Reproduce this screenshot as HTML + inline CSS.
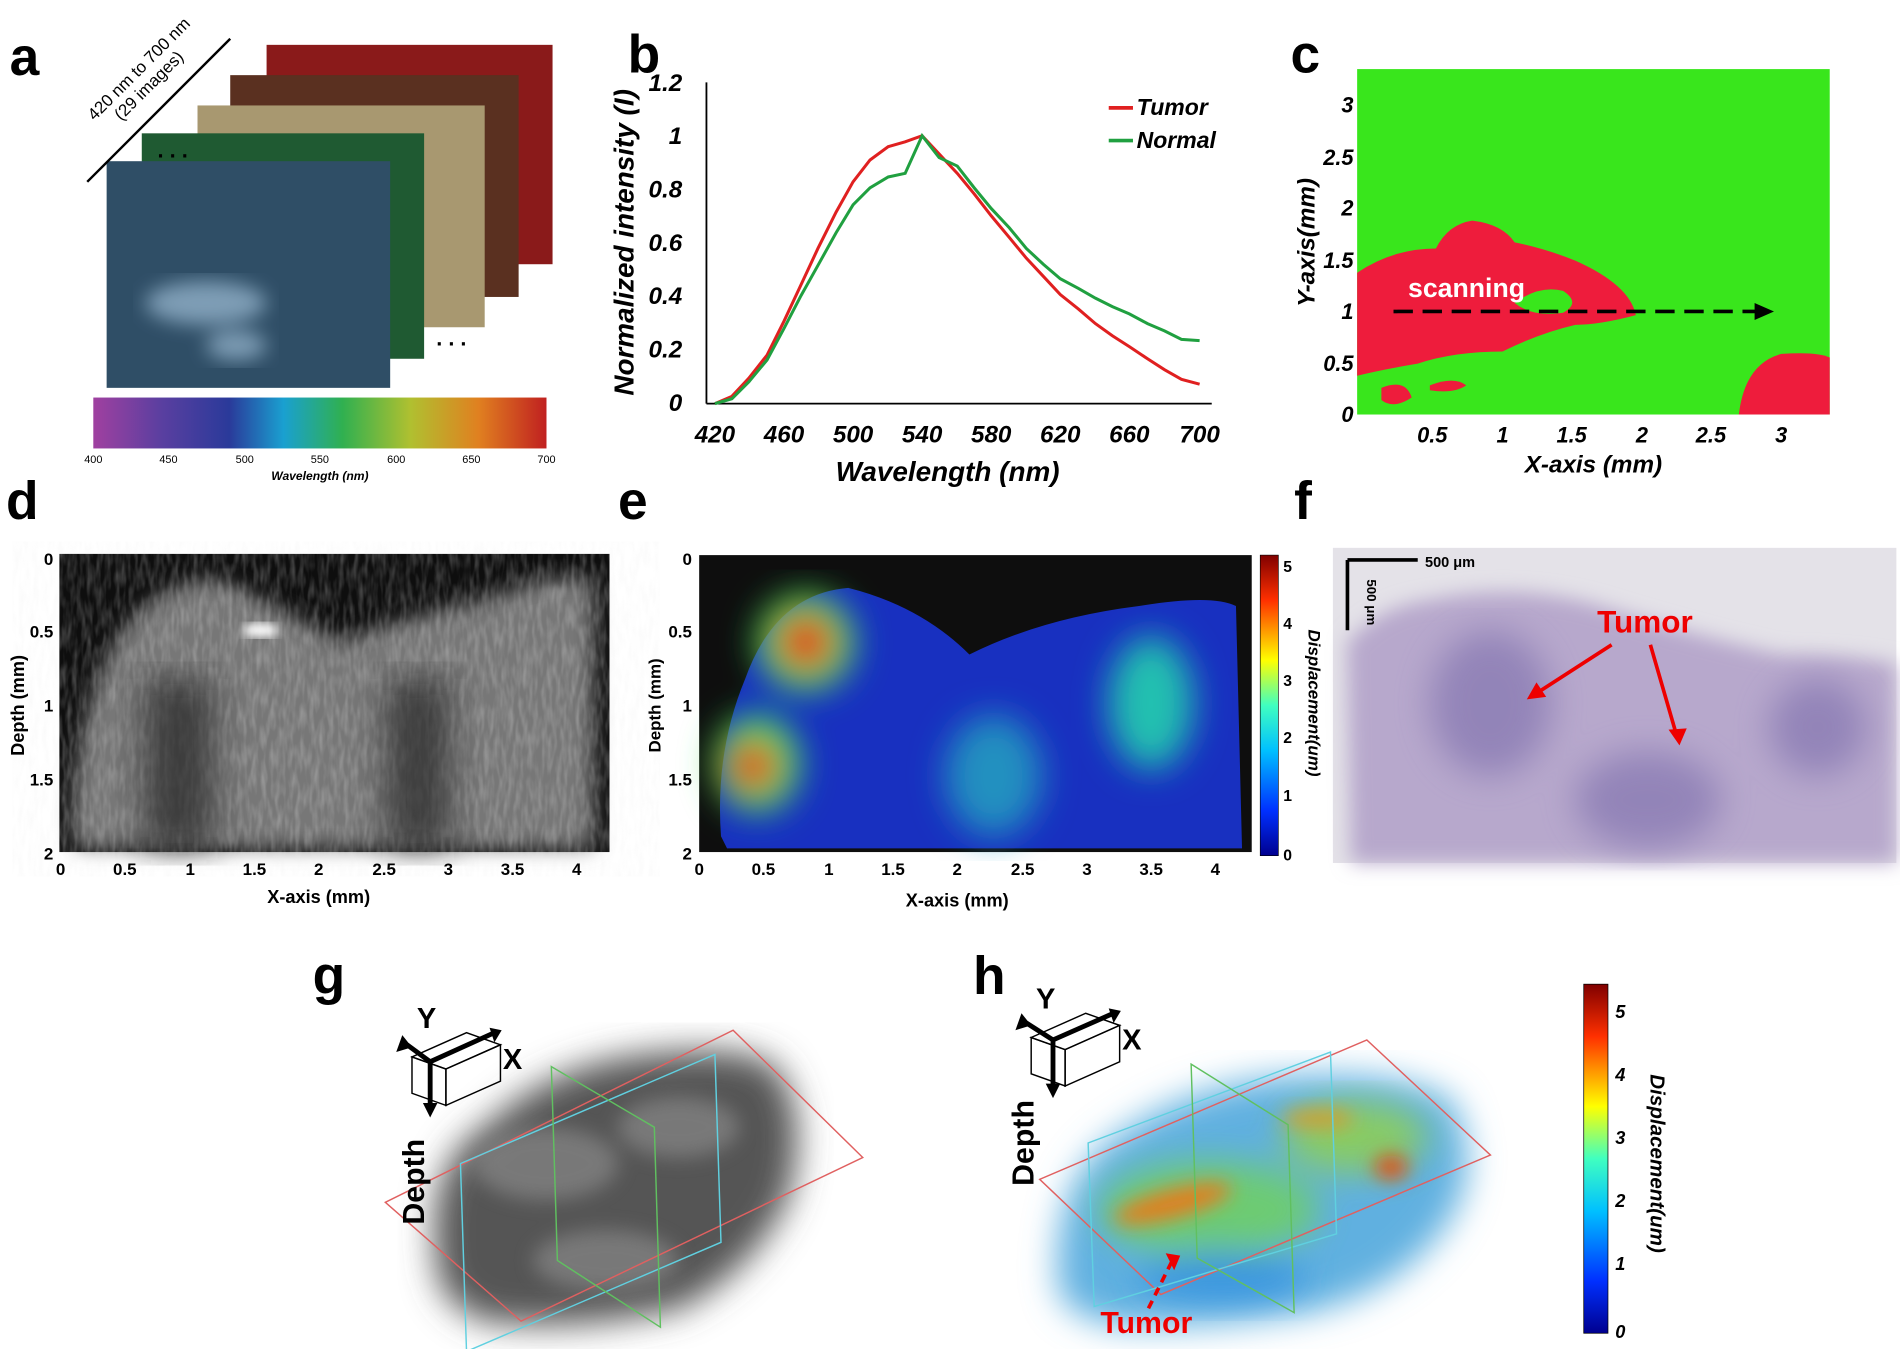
<!DOCTYPE html>
<html><head><meta charset="utf-8"><style>
body{margin:0;background:#fff;width:1900px;height:1349px;overflow:hidden;font-family:"Liberation Sans",Arial,sans-serif}
</style></head><body>
<svg width="1900" height="1349" viewBox="0 0 1568 1113" preserveAspectRatio="none" xmlns="http://www.w3.org/2000/svg" font-family="Liberation Sans, Arial, sans-serif">
<defs>
<filter id="b4"><feGaussianBlur stdDeviation="4"/></filter>
<filter id="b8"><feGaussianBlur stdDeviation="8"/></filter>
<filter id="b14"><feGaussianBlur stdDeviation="14"/></filter>
<filter id="noise"><feTurbulence type="fractalNoise" baseFrequency="0.25 0.06" numOctaves="2" seed="3"/><feColorMatrix type="matrix" values="0 0 0 0 0.85 0 0 0 0 0.85 0 0 0 0 0.85 0 0 1.4 0 -0.5"/></filter>
<linearGradient id="spec" x1="0" x2="1">
<stop offset="0" stop-color="#a040a0"/><stop offset="0.15" stop-color="#5a3fa0"/><stop offset="0.3" stop-color="#2a3a9a"/><stop offset="0.42" stop-color="#1aa0d0"/><stop offset="0.55" stop-color="#30b050"/><stop offset="0.7" stop-color="#b0c030"/><stop offset="0.85" stop-color="#e08020"/><stop offset="1" stop-color="#c02020"/></linearGradient>
<linearGradient id="jet" x1="0" y1="1" x2="0" y2="0">
<stop offset="0" stop-color="#00008f"/><stop offset="0.15" stop-color="#0030ff"/><stop offset="0.35" stop-color="#00c0ff"/><stop offset="0.5" stop-color="#40ffc0"/><stop offset="0.65" stop-color="#ffff00"/><stop offset="0.85" stop-color="#ff3000"/><stop offset="1" stop-color="#800000"/></linearGradient>
</defs>
<g font-weight="bold" font-size="44" fill="#000">
<text x="8" y="62">a</text><text x="518" y="60">b</text><text x="1065" y="60">c</text>
<text x="5" y="428">d</text><text x="510" y="428">e</text><text x="1068" y="428">f</text>
<text x="258" y="820">g</text><text x="803" y="820">h</text></g>

<!-- panel a -->
<rect x="220" y="37" width="236" height="181" fill="#8a1a1a"/>
<rect x="190" y="62" width="238" height="183" fill="#5a3020"/>
<rect x="163" y="87" width="237" height="183" fill="#a89870"/>
<rect x="117" y="110" width="233" height="186" fill="#1f5a32"/>
<rect x="88" y="133" width="234" height="187" fill="#2f4e66"/>
<g filter="url(#b8)" fill="#a0c0d8" opacity="0.7"><ellipse cx="170" cy="250" rx="50" ry="18"/><ellipse cx="195" cy="285" rx="25" ry="12"/></g>
<line x1="72" y1="150" x2="190" y2="32" stroke="#000" stroke-width="2"/>
<text x="0" y="0" font-size="14" transform="translate(78,100) rotate(-45)">420 nm to 700 nm</text>
<text x="0" y="0" font-size="14" transform="translate(100,100) rotate(-45)">(29 images)</text>
<text x="130" y="130" font-size="18" font-weight="bold">. . .</text>
<text x="360" y="285" font-size="18" font-weight="bold">. . .</text>
<rect x="77" y="328" width="374" height="42" fill="url(#spec)"/>
<g font-size="9" text-anchor="middle"><text x="77" y="382">400</text><text x="139" y="382">450</text><text x="202" y="382">500</text><text x="264" y="382">550</text><text x="327" y="382">600</text><text x="389" y="382">650</text><text x="451" y="382">700</text></g>
<text x="264" y="396" font-size="10" font-style="italic" font-weight="bold" text-anchor="middle">Wavelength (nm)</text>

<!-- panel b -->
<g stroke="#000" stroke-width="1.5"><line x1="583" y1="68" x2="583" y2="333"/><line x1="583" y1="333" x2="1000" y2="333"/></g>
<g font-size="20" font-weight="bold" font-style="italic" text-anchor="end">
<text x="563" y="75">1.2</text><text x="563" y="119">1</text><text x="563" y="163">0.8</text><text x="563" y="207">0.6</text><text x="563" y="251">0.4</text><text x="563" y="295">0.2</text><text x="563" y="339">0</text></g>
<g font-size="20" font-weight="bold" font-style="italic" text-anchor="middle">
<text x="590" y="365">420</text><text x="647" y="365">460</text><text x="704" y="365">500</text><text x="761" y="365">540</text><text x="818" y="365">580</text><text x="875" y="365">620</text><text x="932" y="365">660</text><text x="990" y="365">700</text></g>
<text x="782" y="397" font-size="23" font-weight="bold" font-style="italic" text-anchor="middle">Wavelength (nm)</text>
<text transform="translate(523,200) rotate(-90)" font-size="23" font-weight="bold" font-style="italic" text-anchor="middle">Normalized intensity (I)</text>
<polyline fill="none" stroke="#e02020" stroke-width="2.5" points="590,333 604,327 618,312 633,293 647,265 661,235 675,205 690,175 704,150 718,132 733,121 747,117 761,112 775,127 790,143 804,160 818,178 833,196 847,213 861,228 875,243 890,255 904,267 918,277 932,286 947,296 961,305 975,313 990,317"/>
<polyline fill="none" stroke="#20a040" stroke-width="2.5" points="590,333 604,329 618,315 633,297 647,271 661,244 675,219 690,192 704,169 718,155 733,146 747,143 761,112 775,130 790,137 804,155 818,172 833,188 847,205 861,218 875,230 890,238 904,246 918,253 932,259 947,267 961,273 975,280 990,281"/>
<line x1="915" y1="89" x2="935" y2="89" stroke="#e02020" stroke-width="3"/><line x1="915" y1="116" x2="935" y2="116" stroke="#20a040" stroke-width="3"/>
<g font-size="19" font-weight="bold" font-style="italic"><text x="938" y="95">Tumor</text><text x="938" y="122">Normal</text></g>

<!-- panel c -->
<rect x="1120" y="57" width="390" height="285" fill="#39e61c"/>
<g fill="#ee1c3c">
<path d="M1120,225 Q1150,205 1185,205 Q1195,185 1215,182 Q1240,185 1250,200 Q1275,205 1300,215 Q1345,235 1350,260 Q1320,268 1300,268 Q1270,275 1240,290 Q1200,290 1170,300 Q1140,305 1120,310Z"/>
<path d="M1140,320 Q1160,312 1165,328 Q1150,338 1140,330Z"/>
<path d="M1180,318 Q1200,310 1210,318 Q1200,325 1180,322Z"/>
<path d="M1435,342 Q1440,300 1470,292 Q1500,290 1510,295 L1510,342Z"/>
</g>
<path d="M1250,250 Q1270,235 1290,240 Q1305,250 1290,258 Q1265,262 1250,250Z" fill="#39e61c"/>
<text x="1162" y="245" font-size="22" font-weight="bold" fill="#fff">scanning</text>
<line x1="1150" y1="257" x2="1450" y2="257" stroke="#000" stroke-width="3" stroke-dasharray="16,8"/>
<path d="M1448,250 L1464,257 L1448,264Z"/>
<g font-size="18" font-weight="bold" font-style="italic" text-anchor="end">
<text x="1117" y="93">3</text><text x="1117" y="136">2.5</text><text x="1117" y="178">2</text><text x="1117" y="221">1.5</text><text x="1117" y="263">1</text><text x="1117" y="306">0.5</text><text x="1117" y="348">0</text></g>
<g font-size="18" font-weight="bold" font-style="italic" text-anchor="middle">
<text x="1182" y="365">0.5</text><text x="1240" y="365">1</text><text x="1297" y="365">1.5</text><text x="1355" y="365">2</text><text x="1412" y="365">2.5</text><text x="1470" y="365">3</text></g>
<text x="1315" y="390" font-size="20" font-weight="bold" font-style="italic" text-anchor="middle">X-axis (mm)</text>
<text transform="translate(1085,200) rotate(-90)" font-size="20" font-weight="bold" font-style="italic" text-anchor="middle">Y-axis(mm)</text>

<!-- panel d -->
<rect x="49" y="457" width="454" height="246" fill="#0e0e0e"/>
<path d="M60,690 Q60,600 90,540 Q120,480 180,478 Q230,500 280,530 Q330,510 400,495 Q460,470 490,480 L490,700 L65,700Z" fill="#777" filter="url(#b8)"/>
<rect x="55" y="470" width="445" height="230" filter="url(#noise)" opacity="0.35"/>
<g fill="#222" filter="url(#b14)" opacity="0.7"><rect x="120" y="560" width="55" height="140"/><rect x="320" y="560" width="50" height="140"/></g>
<ellipse cx="215" cy="520" rx="15" ry="6" fill="#fff" filter="url(#b4)"/>
<g font-size="14" font-weight="bold" text-anchor="end"><text x="44" y="466">0</text><text x="44" y="526">0.5</text><text x="44" y="587">1</text><text x="44" y="648">1.5</text><text x="44" y="709">2</text></g>
<g font-size="14" font-weight="bold" text-anchor="middle"><text x="50" y="722">0</text><text x="103" y="722">0.5</text><text x="157" y="722">1</text><text x="210" y="722">1.5</text><text x="263" y="722">2</text><text x="317" y="722">2.5</text><text x="370" y="722">3</text><text x="423" y="722">3.5</text><text x="476" y="722">4</text></g>
<text x="263" y="745" font-size="15" font-weight="bold" text-anchor="middle">X-axis (mm)</text>
<text transform="translate(20,582) rotate(-90)" font-size="15" font-weight="bold" text-anchor="middle">Depth (mm)</text>

<!-- panel e -->
<rect x="577" y="458" width="456" height="245" fill="#0e0e0e"/>
<path d="M595,690 Q590,620 615,560 Q640,490 700,485 Q760,500 800,540 Q860,510 940,500 Q1000,490 1020,500 L1025,700 L600,700Z" fill="#1830c0"/>
<g filter="url(#b14)">
<ellipse cx="665" cy="530" rx="40" ry="40" fill="#30e060"/>
<ellipse cx="625" cy="630" rx="35" ry="40" fill="#30e060"/>
<ellipse cx="950" cy="580" rx="35" ry="55" fill="#20c0b0"/>
<ellipse cx="820" cy="640" rx="40" ry="50" fill="#2090c0"/>
<ellipse cx="665" cy="530" rx="24" ry="24" fill="#e03010"/>
<ellipse cx="622" cy="632" rx="20" ry="22" fill="#e03010"/>
</g>
<rect x="1040" y="458" width="15" height="248" fill="url(#jet)" stroke="#000" stroke-width="0.5"/>
<g font-size="13" font-weight="bold"><text x="1059" y="472">5</text><text x="1059" y="519">4</text><text x="1059" y="566">3</text><text x="1059" y="613">2</text><text x="1059" y="661">1</text><text x="1059" y="710">0</text></g>
<text transform="translate(1080,580) rotate(90)" font-size="14" font-weight="bold" font-style="italic" text-anchor="middle">Displacement(um)</text>
<g font-size="14" font-weight="bold" text-anchor="end"><text x="571" y="466">0</text><text x="571" y="526">0.5</text><text x="571" y="587">1</text><text x="571" y="648">1.5</text><text x="571" y="709">2</text></g>
<g font-size="14" font-weight="bold" text-anchor="middle"><text x="577" y="722">0</text><text x="630" y="722">0.5</text><text x="684" y="722">1</text><text x="737" y="722">1.5</text><text x="790" y="722">2</text><text x="844" y="722">2.5</text><text x="897" y="722">3</text><text x="950" y="722">3.5</text><text x="1003" y="722">4</text></g>
<text x="790" y="748" font-size="15" font-weight="bold" text-anchor="middle">X-axis (mm)</text>
<text transform="translate(545,582) rotate(-90)" font-size="14" font-weight="bold" text-anchor="middle">Depth (mm)</text>

<!-- panel f -->
<rect x="1100" y="452" width="465" height="260" fill="#e4e2e8"/>
<path d="M1115,712 L1112,530 Q1140,500 1180,495 Q1250,480 1320,500 Q1400,525 1470,540 Q1530,540 1565,548 L1565,712Z" fill="#b7a8cc" filter="url(#b8)"/>
<g fill="#8a7cb4" filter="url(#b14)" opacity="0.8"><ellipse cx="1230" cy="580" rx="50" ry="60"/><ellipse cx="1360" cy="660" rx="60" ry="40"/><ellipse cx="1500" cy="600" rx="40" ry="40"/></g>
<line x1="1112" y1="462" x2="1170" y2="462" stroke="#000" stroke-width="3"/>
<line x1="1112" y1="462" x2="1112" y2="520" stroke="#000" stroke-width="3"/>
<text x="1176" y="468" font-size="12" font-weight="bold">500 μm</text>
<text transform="translate(1128,478) rotate(90)" font-size="11" font-weight="bold">500 μm</text>
<text x="1318" y="522" font-size="26" font-weight="bold" fill="#e00">Tumor</text>
<g stroke="#e00" stroke-width="3"><line x1="1330" y1="532" x2="1268" y2="572"/><line x1="1362" y1="532" x2="1384" y2="608"/></g>
<path d="M1260,577 L1268,563 L1276,575Z" fill="#e00"/><path d="M1386,615 L1377,602 L1392,601Z" fill="#e00"/>

<!-- panel g -->
<path d="M360,1040 Q350,960 400,930 Q450,880 530,870 Q610,860 640,880 Q670,920 650,990 Q620,1050 560,1080 Q470,1100 400,1090 Q360,1075 360,1040Z" fill="#555" filter="url(#b14)"/>
<g fill="#888" filter="url(#b8)" opacity="0.7"><ellipse cx="450" cy="960" rx="60" ry="30"/><ellipse cx="560" cy="930" rx="50" ry="25"/><ellipse cx="500" cy="1040" rx="60" ry="25"/></g>
<g fill="none" stroke-width="1.2">
<polygon points="318,992 430,1090 712,955 605,850" stroke="#e06060"/>
<polygon points="385,1115 380,960 590,870 595,1025" stroke="#60d0e0"/>
<polygon points="455,880 540,930 545,1095 460,1040" stroke="#60c060"/></g>
<g stroke="#000" fill="none" stroke-width="1.2"><polygon points="340,872 385,852 413,862 368,882"/><polygon points="368,882 413,862 413,892 368,912"/><polygon points="340,872 368,882 368,912 340,902"/></g>
<g stroke="#000" stroke-width="4"><line x1="355" y1="876" x2="408" y2="852"/><line x1="355" y1="876" x2="355" y2="912"/><line x1="355" y1="876" x2="336" y2="862"/></g>
<path d="M349,910 L355,922 L361,910Z"/><path d="M332,854 L327,868 L340,864Z"/><path d="M404,848 L414,850 L408,860Z"/>
<g font-size="24" font-weight="bold"><text x="344" y="848">Y</text><text x="415" y="882">X</text></g>
<text transform="translate(350,975) rotate(-90)" font-size="25" font-weight="bold" text-anchor="middle">Depth</text>

<!-- panel h -->
<g transform="translate(-32,8)">
<path d="M905,1050 Q900,960 960,925 Q1020,885 1100,880 Q1190,875 1230,900 Q1260,960 1220,1010 Q1180,1060 1110,1075 Q1020,1090 950,1085 Q905,1075 905,1050Z" fill="#60b0e0" filter="url(#b14)"/>
<g filter="url(#b14)" opacity="0.85"><ellipse cx="1030" cy="990" rx="90" ry="40" fill="#70d060"/><ellipse cx="1150" cy="930" rx="60" ry="30" fill="#90d050"/><ellipse cx="1040" cy="1045" rx="70" ry="20" fill="#3090e0"/></g>
<g filter="url(#b8)"><ellipse cx="1000" cy="985" rx="50" ry="12" fill="#e08020" transform="rotate(-15 1000 985)"/><ellipse cx="1180" cy="955" rx="14" ry="10" fill="#e05010"/><ellipse cx="1120" cy="915" rx="30" ry="8" fill="#d0a030"/></g>
<g fill="none" stroke-width="1.2">
<polygon points="890,965 990,1060 1262,945 1160,850" stroke="#e06060"/>
<polygon points="935,1070 930,935 1130,860 1135,1010" stroke="#60d0e0"/>
<polygon points="1015,870 1095,920 1100,1075 1020,1030" stroke="#60c060"/></g>
<g stroke="#000" fill="none" stroke-width="1.2"><polygon points="883,848 928,828 956,838 911,858"/><polygon points="911,858 956,838 956,868 911,888"/><polygon points="883,848 911,858 911,888 883,878"/></g>
<g stroke="#000" stroke-width="4"><line x1="901" y1="850" x2="951" y2="828"/><line x1="901" y1="850" x2="901" y2="888"/><line x1="901" y1="850" x2="879" y2="836"/></g>
<path d="M895,886 L901,898 L907,886Z"/><path d="M875,828 L870,842 L883,838Z"/><path d="M947,824 L957,826 L951,836Z"/>
<g font-size="24" font-weight="bold"><text x="887" y="824">Y</text><text x="958" y="858">X</text></g>
<text transform="translate(885,935) rotate(-90)" font-size="25" font-weight="bold" text-anchor="middle">Depth</text>
<line x1="999" y1="1033" x2="979" y2="1073" stroke="#e00" stroke-width="3" stroke-dasharray="7,5"/>
<path d="M994,1026 L1006,1028 L1001,1040Z" fill="#e00"/>
<text x="978" y="1092" font-size="25" font-weight="bold" fill="#e00" text-anchor="middle">Tumor</text>
</g>
<rect x="1307" y="812" width="20" height="288" fill="url(#jet)" stroke="#000" stroke-width="0.6"/>
<g font-size="15" font-weight="bold" font-style="italic"><text x="1333" y="840">5</text><text x="1333" y="892">4</text><text x="1333" y="944">3</text><text x="1333" y="996">2</text><text x="1333" y="1048">1</text><text x="1333" y="1104">0</text></g>
<text transform="translate(1362,960) rotate(90)" font-size="17" font-weight="bold" font-style="italic" text-anchor="middle">Displacement(um)</text>
</svg>
</body></html>
